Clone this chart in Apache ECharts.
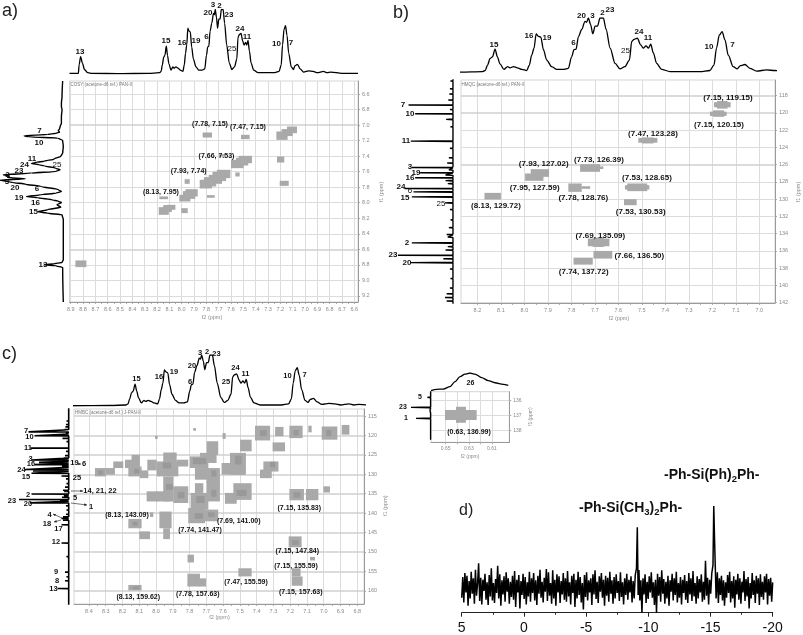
<!DOCTYPE html>
<html>
<head>
<meta charset="utf-8">
<style>html,body{margin:0;padding:0;background:#fff}#c{width:803px;height:635px}</style>
<script src="https://cdn.jsdelivr.net/npm/echarts@6/dist/echarts.min.js"></script>
</head>
<body>
<div id="c"></div>
<script>
// ---------- 1H projection (shared by panels a, b, c) ----------
const protonPpm = [8.91,8.85,8.838,8.832,8.82,8.805,8.789,8.762,8.727,8.5,8.27,8.18,8.167,8.157,8.146,8.136,8.125,8.115,8.104,8.087,8.072,8.061,8.047,8.03,8.011,7.99,7.979,7.969,7.959,7.95,7.942,7.93,7.919,7.905,7.884,7.862,7.834,7.813,7.799,7.789,7.78,7.77,7.756,7.742,7.735,7.728,7.718,7.709,7.699,7.689,7.678,7.664,7.652,7.635,7.614,7.593,7.572,7.553,7.543,7.533,7.519,7.505,7.494,7.482,7.472,7.462,7.451,7.437,7.416,7.38,7.252,7.21,7.193,7.182,7.17,7.158,7.146,7.132,7.111,7.094,7.08,7.061,7.04,7.011,6.969,6.933,6.9,6.85,6.82,6.79,6.7,6.57];
const protonIntensity = [1,1,1,14,27,17,7,2,1,0.5,1,2,4,14,26,29,43,29,16,6,11,9,11,9,6,4,14,32,45,71,67,65,42,23,11,6,6,8,29,42,43,66,79,94,92,100,88,71,85,85,100,100,79,45,17,7,11,23,57,61,63,51,45,49,45,52,36,17,6,2,2,4,14,45,69,75,60,32,11,7,13,15,8,3,5,4,2,4,2,3,1,1];

// ---------- COSY f1 projection (panel a) ----------
const cosyF1Ppm = [6.43,6.63,6.716,6.76,6.8,6.888,6.974,7.017,7.05,7.068,7.09,7.103,7.12,7.137,7.15,7.167,7.197,7.275,7.36,7.4,7.438,7.464,7.477,7.494,7.511,7.524,7.554,7.575,7.597,7.618,7.64,7.653,7.674,7.69,7.71,7.739,7.76,7.79,7.83,7.855,7.876,7.898,7.919,7.936,7.962,7.98,7.996,8.027,8.057,8.09,8.117,8.134,8.156,8.22,8.736,8.77,8.787,8.8,8.813,8.835,9.28];
const cosyF1Intensity = [1,2,3,3,2,3,3,5,6,8,6,11,25,62,55,8,1,0,1,4,15,30,42,50,38,30,12,5,12,50,95,85,88,60,100,80,60,35,8,3,12,35,58,40,18,8,3,10,4,25,40,25,2,0,0,2,15,30,12,1,0];

// ---------- 13C projection (shared by panels b and c) ----------
const carbonPpm = [114.4,115.6,116.3,117.2,117.8,118.5,119.08,119.6,120.09,120.75,121.6,122.3,123.27,124.1,125.2,125.8,126.32,126.6,126.94,127.2,127.52,127.85,128.2,128.76,129.15,129.73,130.43,131.2,132.4,133.3,134.1,134.4,135.07,135.5,135.9,136.5,136.9,137.36,138.1,139.2,140.3,140.96,141.4,141.8,143.0,144.6,146.2,147.7,149.5,151.2,153.3,155.2,156.4,157.4,159.4,161.2];
const carbonIntensity = [3,4,5,6,7,9,81,6,69,13,5,4,77,6,8,11,75,8,60,14,69,14,10,88,72,75,15,6,5,8,12,10,75,10,14,100,18,78,6,5,6,12,15,12,15,4,4,15,4,5,4,8,5,8,23,4];

// ---------- Cross peaks: ppmLeft, ppmRight, f1Top, f1Bottom, shade ----------
const cosyPeaks = [
 [8.862,8.773,8.744,8.83,0],[8.186,8.105,8.057,8.156,0],[8.119,8.051,8.027,8.091,0],[8.15,8.08,8.03,8.12,0],[8.019,7.93,7.898,7.984,0],[7.97,7.87,7.825,7.919,0],[7.99,7.89,7.85,7.95,0],
 [7.854,7.754,7.704,7.816,0],[7.781,7.673,7.64,7.756,0],[7.714,7.605,7.575,7.683,0],[7.82,7.72,7.67,7.79,0],[7.75,7.64,7.6,7.72,0],[7.6,7.497,7.447,7.554,0],[7.538,7.43,7.395,7.49,0],[7.56,7.46,7.42,7.52,0],
 [7.232,7.141,7.081,7.189,0],[7.146,7.065,7.017,7.103,0],[7.19,7.1,7.05,7.14,0],[7.83,7.754,7.094,7.159,0],[7.519,7.449,7.124,7.18,0],[7.227,7.168,7.404,7.481,0],
 [7.205,7.132,7.717,7.782,0],[7.7,7.646,7.374,7.404,0],[7.565,7.53,7.61,7.661,0],[7.976,7.935,7.696,7.756,0],[7.795,7.732,7.902,7.936,0],
 [8.181,8.111,7.919,7.954,0],[8.003,7.951,8.07,8.134,0]
];
const hmqcPeaks = [
 [7.193,7.122,118.75,119.35,0],[7.18,7.135,118.62,119.5,0],[7.21,7.139,119.85,120.35,0],[7.197,7.15,119.7,120.45,0],
 [7.515,7.434,122.9,123.45,0],[7.5,7.45,122.84,123.54,0],[7.763,7.678,125.94,126.83,0],[7.678,7.664,126.2,126.5,0],
 [7.973,7.895,126.52,127.41,0],[7.997,7.919,127.02,127.87,0],[7.813,7.756,128.18,129.15,0],[7.756,7.72,128.5,128.8,0],
 [8.17,8.1,129.27,130.04,0],[7.562,7.477,128.18,129.07,0],[7.572,7.468,128.38,128.88,0],[7.576,7.522,130,130.7,0],
 [7.73,7.638,134.57,135.46,0],[7.709,7.661,134.45,135.54,0],[7.706,7.626,136,136.89,0],[7.791,7.709,136.78,137.59,0]
];
const hmbcPeaks = [
 [8.299,8.245,128.4,130.1,0],[8.364,8.299,128.4,130.55,0],[8.255,8.195,126.7,128.4,0],[8.185,8.096,126.25,128.4,0],[8.146,8.096,125,127.5,0],[8.165,8.086,128,130.55,0],[8.096,8.046,129,131,0],
 [8.052,7.996,126.25,129,0],[7.996,7.867,126.7,130.55,0],[7.957,7.877,124.4,127.1,0],[7.877,7.808,126.25,128,0],[7.957,7.897,130.55,137,0],[8.056,7.986,134.4,137,0],[7.996,7.917,134.4,137,0],[7.897,7.808,133.1,137.4,0],
 [7.798,7.688,125.4,128.4,0],[7.738,7.639,124.5,127.1,0],[7.698,7.629,121.5,125,0],[7.768,7.688,128.4,131.4,0],[7.698,7.619,128.4,132.3,0],[7.698,7.619,131.8,137,0],
 [7.794,7.688,134.8,139.1,0],[7.768,7.718,132.3,135.3,0],[7.808,7.708,138.7,142.6,0],[7.714,7.629,139.1,142.1,0],
 [7.609,7.47,127.1,130.1,0],[7.559,7.464,124.5,130.1,0],[7.499,7.43,121.1,124.1,0],[7.589,7.519,134.8,137.6,0],[7.539,7.43,132.3,136.6,0],
 [7.41,7.32,117.5,121.3,0],[7.29,7.24,117.8,120.2,0],[7.205,7.126,117.5,120.7,0],[7.092,7.072,117.5,119.2,0],[7.012,6.919,117.7,121.1,0],[6.893,6.847,117.3,119.8,0],
 [7.305,7.231,121.8,124.1,0],[7.36,7.27,126.7,129.3,0],[7.38,7.31,128.8,131,0],[7.205,7.118,133.8,136.7,0],[7.106,7.032,133.8,136.7,0],[7.002,6.963,133.1,134.7,0],
 [7.209,7.132,146,148.8,0],[7.191,7.138,154.2,156.3,0],[7.191,7.126,156.3,158.7,0],[7.082,7.052,151.3,152.2,0],[7.509,7.43,154.2,156.3,0],[7.812,7.774,150.7,152.7,0],[7.813,7.738,155.6,158.9,0],[7.742,7.702,156.8,158.9,0],
 [8.165,8.086,158.5,159.9,0],[8.165,8.086,141.5,143.9,0],[8.1,8.036,144.7,146.7,0],[8.036,8.016,139.8,141,0],[7.98,7.907,139.6,143.9,0],[7.957,7.917,143.9,146.7,0],
 [7.778,7.762,118.1,118.8,0],[8.006,7.99,120.1,120.9,0],[7.603,7.585,119.4,120.9,0],
 [8.345,8.315,129,130.1,1],[8.13,8.1,128.6,129.8,1],[7.96,7.91,127,128.5,1],[7.94,7.9,132.5,134,1],[7.87,7.83,134.6,136.2,1],[7.78,7.7,125.8,127.4,1],
 [7.67,7.64,129,130.6,1],[7.67,7.64,134,135.8,1],[7.76,7.71,135.6,137.4,1],[7.77,7.72,140,141.5,1],[7.69,7.65,139.8,141,1],[7.53,7.49,125.2,127.5,1],[7.52,7.46,134,135.6,1],
 [7.38,7.34,118.6,120.2,1],[7.18,7.15,118.6,120,1],[6.985,6.955,118.6,120.2,1],[7.18,7.14,134.6,136,1],[7.19,7.15,147,148.2,1],[7.32,7.29,126.8,128.2,1],[8.14,8.11,142.2,143.2,1],[8.14,8.1,158.9,159.6,1]
];
const insetPeaks = [[0.6506,0.6232,136.64,137.31,0],[0.6411,0.6325,136.42,137.49,0]];

// ---------- Inset 1D traces ----------
const insetProtonPpm = [0.6627,0.6578,0.652,0.6463,0.6419,0.6376,0.6333,0.629,0.6247,0.6189,0.6132,0.6074,0.6002,0.5959];
const insetProtonIntensity = [0,8,9,23,51,79,94,100,94,74,57,45,36,30];
const insetCarbonPpm = [135.42,135.6,135.8,135.95,136.1,136.3,136.47,136.65,136.9,137.2,137.4,137.7,138.0,138.3,138.6];
const insetCarbonIntensity = [3,6,18,4,8,6,100,5,9,75,5,4,6,4,5];

// ---------- Tick values ----------
const cosyXTicks = [8.9,8.8,8.7,8.6,8.5,8.4,8.3,8.2,8.1,8.0,7.9,7.8,7.7,7.6,7.5,7.4,7.3,7.2,7.1,7.0,6.9,6.8,6.7,6.6];
const cosyYTicks = [6.6,6.8,7.0,7.2,7.4,7.6,7.8,8.0,8.2,8.4,8.6,8.8,9.0,9.2];
const hmqcXTicks = [8.2,8.1,8.0,7.9,7.8,7.7,7.6,7.5,7.4,7.3,7.2,7.1,7.0];
const hmqcYTicks = [118,120,122,124,126,128,130,132,134,136,138,140,142];
const hmbcXTicks = [8.4,8.3,8.2,8.1,8.0,7.9,7.8,7.7,7.6,7.5,7.4,7.3,7.2,7.1,7.0,6.9,6.8];
const hmbcYTicks = [115,120,125,130,135,140,145,150,155,160];
const insetXTicks = [0.65,0.63,0.61];
const insetYTicks = [136,137,138];

// ---------- 29Si spectrum, read by eye as three noise stretches and two peaks ----------
const siNoiseA = [-28,34,-42,46,-12,38,-52,22,-30,50,-16,30,-46,56,-22,14,75,-38,32,-48,26,-8,44,-34,18,-50,40,-24,60,-36,16,-44,28,-14,68,-30,42,-52,24,-18,36,-40,48,-10,30,-46,20,-26,38,-34,52,-56,26,-12,40,-60,22,-20,44,-32,34,-48,18,-24,50,-40,30,-14,46,-36,24,-50,38,-16,56,-28,20,-42,32,-10,58,-38,48,-22,16,-46,54,-30,26,-52,42,-12,36,-44,22,-18,46,-34,30,-40,52,-24,18,-48,38,-14,44,-56,26,-30,50,-20,34,-42,16,-63,40,-26,48,-36,24,-12,30,-50,42,-18,54,-32,20,-44,36,-10,46,-28,26,-52,38,-22,32,-40,50,-16,24,-46,34,-30,42,-14,22,-38,48,-26,18,-48,30,-20,44,-34,26,-12,36,-42,22,-30,40];
const siPeakA = [60,183,-20,55];
const siNoiseB = [-36,24,-73,30,-18,42,-44,20,-32,36,-12,48,-28,18,-50,26,-73,44,-22,34,-40,54,-16,28,-46,20,-30,38,-52,24,-10,44,-36,30,-20,50,-42,16,-28,34,-48,26,-14,40,-34,22,-44,46,-18,30,-38,52,-24,16,-46,36,-30,28,-12,42,-40,20,-34,83,-22,32,-48,26,-16,44];
const siPeakB = [70,247,150,60,-30];
const siNoiseC = [48,-44,30,-20,38,-36,24,-52,18,-28,40,-14,50,-42,22,-30,36,-58,26,-18,44,-34,30,-46,20,-12,52,-38,28,-24,34,-60,16,-30,46,-20,24,-44,38,-16,30,-50,42,-26,20,-34,36,-12,44,-48,28,-22,32,-40,18];

// ---------- Annotations ----------
const panelLetters = ['a)','b)','c)','d)'];

const grids=[],xAxes=[],yAxes=[],series=[],graphics=[];
const AXIS='#9a9a9a', LABEL='#8a8a8a', LIGHT='#a9a9a9', DARK='#999999';

function midTicks(t){const o=[];t.forEach((v,i)=>{o.push(v);if(i<t.length-1)o.push(+((v+t[i+1])/2).toFixed(3));});return o;}
function decimals(t){return String(t[0]).split('.')[1]?String(t[0]).split('.')[1].length:0;}

function hidden1D(gridIndex,xr,yr,xInv,yInv){
  xAxes.push({gridIndex,type:'value',show:false,min:xr[0],max:xr[1],inverse:xInv});
  yAxes.push({gridIndex,type:'value',show:false,min:yr[0],max:yr[1],inverse:yInv});
}
function line(idx,data,w,mono){
  series.push({type:'line',xAxisIndex:idx,yAxisIndex:idx,data,showSymbol:false,symbol:'none',silent:true,animation:false,
    smooth:mono?0.3:false,smoothMonotone:mono||undefined,
    lineStyle:{color:'#000',width:w||1.3},clip:true});
}
function main2D(box,xr,yr,xt,yt,peaks,heavyY,fontSize,xGrid){
  const idx=grids.length;
  grids.push({left:box.l,top:box.t,width:box.r-box.l,height:box.b-box.t,show:true,borderColor:'#d5d5d5',borderWidth:1,backgroundColor:'transparent'});
  const dx=decimals(xt),dy=decimals(yt);
  xAxes.push({gridIndex:idx,type:'value',position:'bottom',min:xr[0],max:xr[1],inverse:true,
    axisLine:{onZero:false,lineStyle:{color:AXIS,width:1}},
    axisTick:{show:true,length:2,customValues:midTicks(xt),lineStyle:{color:AXIS,width:.8}},
    axisLabel:{show:true,customValues:xt,color:LABEL,fontSize:fontSize,margin:4,fontFamily:'Liberation Sans',formatter:v=>(+v).toFixed(dx)},
    splitLine:{show:false}});
  yAxes.push({gridIndex:idx,type:'value',position:'right',min:yr[0],max:yr[1],inverse:true,
    axisLine:{onZero:false,lineStyle:{color:AXIS,width:1}},
    axisTick:{show:true,length:2,customValues:yt,lineStyle:{color:AXIS,width:.8}},
    axisLabel:{show:true,customValues:yt,color:LABEL,fontSize:fontSize,margin:4,fontFamily:'Liberation Sans',formatter:v=>(+v).toFixed(dy)},
    splitLine:{show:false}});
  const gl=[];
  (xGrid||xt).forEach(v=>gl.push({xAxis:v,lineStyle:{color:'#dcdcdc',width:1,type:'solid'}}));
  yt.forEach(v=>gl.push({yAxis:v,lineStyle:heavyY.includes(v)?{color:'#cfcfcf',width:1.6,type:'solid'}:{color:'#dcdcdc',width:1,type:'solid'}}));
  series.push({type:'custom',coordinateSystem:'cartesian2d',xAxisIndex:idx,yAxisIndex:idx,data:peaks,clip:true,silent:true,animation:false,z:3,
    encode:{x:[0,1],y:[2,3]},
    renderItem:(p,api)=>{
      const a=api.coord([api.value(0),api.value(2)]),b=api.coord([api.value(1),api.value(3)]);
      return {type:'rect',shape:{x:a[0],y:a[1],width:b[0]-a[0],height:b[1]-a[1]},style:{fill:api.value(4)?DARK:LIGHT}};
    },
    markLine:{silent:true,symbol:'none',animation:false,label:{show:false},data:gl,z:1}});
  return idx;
}
function panel(o){
  main2D(o.box,o.xr,o.yr,o.xt,o.yt,o.peaks,o.heavy||[],o.fs||5.5,o.xGrid);
  let idx=grids.length;
  grids.push({left:o.box.l,top:o.top[0],width:o.box.r-o.box.l,height:o.top[1]-o.top[0]});
  hidden1D(idx,o.xr,[0,100],true,false);
  line(idx,o.topData,o.lw,'x');
  idx=grids.length;
  grids.push({left:o.side[0],top:o.box.t,width:o.side[1]-o.side[0],height:o.box.b-o.box.t});
  hidden1D(idx,[0,100],o.yr,true,true);
  line(idx,o.sideData,o.lwSide||1.4,o.sideMono);
}
const proton=protonPpm.map((p,i)=>[p,protonIntensity[i]]);
const cosySide=cosyF1Ppm.map((p,i)=>[cosyF1Intensity[i],p]);
const carbon=[[0.6,112]];
carbonPpm.forEach((p,i)=>{carbon.push([0.6,p-0.04],[carbonIntensity[i],p],[0.6,p+0.04]);});
carbon.push([0.6,164]);

panel({box:{l:69.5,r:358,t:81,b:302},xr:[6.57,8.91],yr:[6.43,9.28],xt:cosyXTicks,yt:cosyYTicks,peaks:cosyPeaks,heavy:[7.0,8.6],
  top:[9.5,74],side:[0,63.3],topData:proton,sideData:cosySide,sideMono:'y'});
panel({box:{l:461,r:775,t:80,b:303},xr:[6.933,8.27],yr:[116.18,142.04],xt:hmqcXTicks,yt:hmqcYTicks,peaks:hmqcPeaks,heavy:[118,120,126],
  top:[18,72.7],side:[398,453.3],topData:proton,sideData:carbon});
panel({box:{l:74,r:364,t:409,b:604},xr:[6.76,8.489],yr:[113.2,163.4],xt:hmbcXTicks,yt:hmbcYTicks,peaks:hmbcPeaks,heavy:hmbcYTicks,
  top:[355,406],side:[19,69],topData:proton,sideData:carbon,lwSide:1.6});
panel({box:{l:431,r:509.3,t:391.7,b:442.3},xr:[0.595,0.6627],yr:[135.42,138.8],xt:insetXTicks,yt:insetYTicks,peaks:insetPeaks,heavy:[],fs:5,xGrid:midTicks(insetXTicks),
  top:[373,390.7],side:[411,431],topData:insetProtonPpm.map((p,i)=>[p,insetProtonIntensity[i]]),sideData:insetCarbonPpm.flatMap((p,i)=>[[2,p-0.03],[insetCarbonIntensity[i],p],[2,p+0.03]])});

// Panel d
const spread=(vals,from,to)=>vals.map((v,i)=>[from+(to-from)*i/Math.max(1,vals.length-1),v]);
const siData=[...spread(siNoiseA,5,-8.95),...spread(siPeakA,-9.05,-9.25),...spread(siNoiseB,-9.32,-15.1),...spread(siPeakB,-15.2,-15.45),...spread(siNoiseC,-15.55,-20)];
{
  const idx=grids.length;
  grids.push({left:461.7,top:506,width:311,height:106.7});
  xAxes.push({gridIndex:idx,type:'value',min:-20,max:5,interval:5,inverse:true,position:'bottom',
    axisLine:{onZero:false,lineStyle:{color:'#222',width:1}},
    axisTick:{length:4,lineStyle:{color:'#222',width:1}},
    minorTick:{show:true,splitNumber:2,length:2,lineStyle:{color:'#222',width:1}},
    axisLabel:{color:'#111',fontSize:14,margin:8,fontFamily:'Liberation Sans',showMinLabel:true,showMaxLabel:true},splitLine:{show:false}});
  yAxes.push({gridIndex:idx,type:'value',show:false,min:-73,max:247});
  line(idx,siData,1.5);
}

// ---------- Text notes ----------
function note(x,y,text,o){
  o=o||{};
  graphics.push({type:'text',x,y,silent:true,z:50,rotation:o.rot||0,style:{text,fill:o.c||'#111',
    font:(o.w||'bold')+' '+(o.s||8)+'px "Liberation Sans"',textAlign:o.a||'center',textVerticalAlign:'middle'}});
}
const notes=(arr,o)=>arr.forEach(n=>note(n[0],n[1],n[2],o));
const letter={w:'normal',s:18,a:'left',c:'#222'};
note(2,11,panelLetters[0],letter);note(393,13,panelLetters[1],letter);note(2,354,panelLetters[2],letter);note(459,511,panelLetters[3],{w:'normal',s:16,a:'left',c:'#222'});

// a
notes([[80,51.5,'13'],[166,41,'15'],[182,43,'16'],[196,41,'19'],[206.5,37,'6'],[208,12.5,'20'],[213,5,'3'],[219.5,6,'2'],[229,14.5,'23'],[240,29,'24'],[247,37,'11'],[276.5,43.5,'10'],[291,43,'7'],
 [39.5,131,'7'],[39,143,'10'],[32,159,'11'],[24.5,165,'24'],[19,171,'23'],[7.5,175,'2'],[7,182,'3'],[15,188,'20'],[37,189,'6'],[19,197.5,'19'],[35.5,202.5,'16'],[33.5,212,'15'],[43,265,'13']]);
notes([[232,49,'25'],[57,165,'25']],{w:'normal'});
notes([[210,124,'(7.78, 7.15)'],[248,127,'(7.47, 7.15)'],[216.5,156,'(7.66, 7.53)'],[188.7,171.3,'(7.93, 7.74)'],[161,192,'(8.13, 7.95)']],{s:7});
note(70.5,85,'COSY (acetone-d6 ref.) PAN-II',{w:'normal',s:4.5,a:'left',c:'#777'});
note(212,317,'f2 (ppm)',{w:'normal',s:5.5,c:LABEL});
note(381,192,'f1 (ppm)',{w:'normal',s:5.5,c:LABEL,rot:Math.PI/2});

// b
notes([[494,45,'15'],[529,36,'16'],[547,37.5,'19'],[573.5,43,'6'],[581.5,16,'20'],[592.5,16,'3'],[602.5,13,'2'],[610,10,'23'],[639,32,'24'],[648,37.5,'11'],[709,46.5,'10'],[732.5,45,'7'],
 [403,105,'7'],[410,114,'10'],[406,141,'11'],[410,167,'3'],[416,172.5,'19'],[410,178,'16'],[401,187,'24'],[407,243,'2'],[393,255,'23'],[407,263,'20'],[405,198,'15']]);
notes([[625.5,51,'25'],[410,191,'6'],[441,204,'25']],{w:'normal'});
notes([[728,97.7,'(7.15, 119.15)'],[719,124.3,'(7.15, 120.15)'],[653,133.3,'(7.47, 123.28)'],[599,159.3,'(7.73, 126.39)'],[543.7,163.3,'(7.93, 127.02)'],[534.7,187.3,'(7.95, 127.59)'],[647,178,'(7.53, 128.65)'],[583.3,197.3,'(7.78, 128.76)'],[496,205.7,'(8.13, 129.72)'],[640.7,212,'(7.53, 130.53)'],[600.3,235.3,'(7.69, 135.09)'],[639.3,255.7,'(7.66, 136.50)'],[583.7,271.7,'(7.74, 137.72)']],{s:8});
note(461.5,84.5,'HMQC (acetone-d6 ref.) PAN-II',{w:'normal',s:4.5,a:'left',c:'#777'});
note(619,318,'f2 (ppm)',{w:'normal',s:5.5,c:LABEL});
note(798,192,'f1 (ppm)',{w:'normal',s:5.5,c:LABEL,rot:Math.PI/2});

// c
notes([[136.5,378.5,'15'],[159,377,'16'],[174,372,'19'],[190,382,'6'],[192,366,'20'],[200,352.5,'3'],[207,351.5,'2'],[216.5,353.5,'23'],[235.5,368,'24'],[226,382,'25'],[245.5,373.5,'11'],[287.5,375.5,'10'],[304.5,375,'7'],
 [26,431,'7'],[29.5,437,'10'],[28,448,'11'],[30.5,459,'3'],[31,464,'16'],[74.5,463,'19'],[84,464,'6'],[21.5,469.5,'24'],[26,477,'15'],[77,477.5,'25'],[100,490.5,'14, 21, 22'],[28,495,'2'],[75,498,'5'],[12,501,'23'],[28,503.5,'20'],[91,506.5,'1'],[49.5,514.5,'4'],[47,524,'18'],[58.5,529,'17'],[56,542,'12'],[56,572,'9'],[57,581,'8'],[53.5,589,'13']],{s:7.5});
notes([[127,515,'(8.13, 143.09)'],[299.3,507.7,'(7.15, 135.83)'],[200,530.3,'(7.74, 141.47)'],[238.7,520.7,'(7.69, 141.00)'],[297.3,551,'(7.15, 147.84)'],[296,566,'(7.15, 155.59)'],[246,582,'(7.47, 155.59)'],[300.7,591.7,'(7.15, 157.63)'],[197.7,593.7,'(7.78, 157.63)'],[138.3,597,'(8.13, 159.62)']],{s:7});
note(75,413,'HMBC (acetone-d6 ref.) J-PAN-II',{w:'normal',s:4.5,a:'left',c:'#777'});
note(219.5,617,'f2 (ppm)',{w:'normal',s:5.5,c:LABEL});
note(385,505.7,'f1 (ppm)',{w:'normal',s:5.5,c:LABEL,rot:Math.PI/2});
[[71,491,83,491],[71,503,87,505],[77,464,81,464],[62,518,53,514],[61,520,54,522]].forEach(a=>{
  graphics.push({type:'line',silent:true,z:49,shape:{x1:a[0],y1:a[1],x2:a[2],y2:a[3]},style:{stroke:'#333',lineWidth:.7}});
  const ang=Math.atan2(a[3]-a[1],a[2]-a[0]),L=3;
  graphics.push({type:'polygon',silent:true,z:49,shape:{points:[[a[2],a[3]],[a[2]-L*Math.cos(ang-.45),a[3]-L*Math.sin(ang-.45)],[a[2]-L*Math.cos(ang+.45),a[3]-L*Math.sin(ang+.45)]]},style:{fill:'#222'}});
});

// inset
notes([[470.5,383.5,'26'],[420,397,'5'],[403,407,'23'],[406,418,'1']],{s:7});
note(469,431.7,'(0.63, 136.99)',{s:7});
note(470,457,'f2 (ppm)',{w:'normal',s:5,c:LABEL});
note(530.7,416.7,'f1 (ppm)',{w:'normal',s:5,c:LABEL,rot:Math.PI/2});

// d labels with subscripts
const siRich={m:{font:'bold 14px "Liberation Sans"',fill:'#111'},s:{font:'bold 9.5px "Liberation Sans"',fill:'#111',padding:[8,0,0,0]}};
graphics.push({type:'text',x:664,y:475,silent:true,z:50,style:{text:'{m|-Ph-Si(Ph)}{s|2}{m|Ph-}',textAlign:'left',textVerticalAlign:'middle',rich:siRich}});
graphics.push({type:'text',x:579,y:508,silent:true,z:50,style:{text:'{m|-Ph-Si(CH}{s|3}{m|)}{s|2}{m|Ph-}',textAlign:'left',textVerticalAlign:'middle',rich:siRich}});

const chart=echarts.init(document.getElementById('c'),null,{width:803,height:635});
chart.setOption({animation:false,backgroundColor:'#fff',grid:grids,xAxis:xAxes,yAxis:yAxes,series,graphic:{elements:graphics}});
</script>
</body>
</html>
